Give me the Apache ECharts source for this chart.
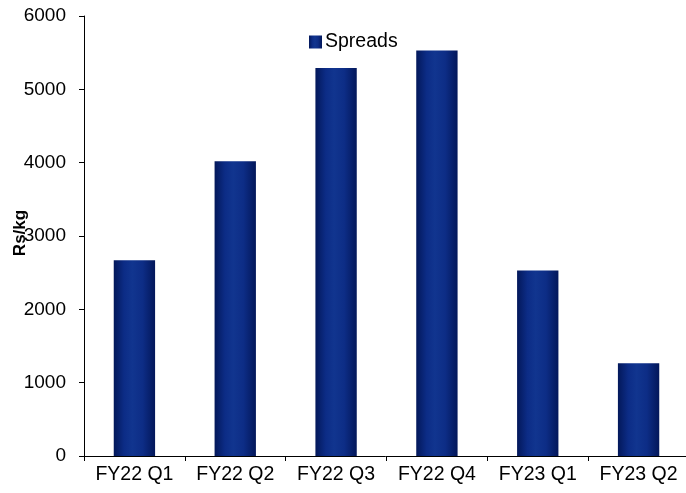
<!DOCTYPE html>
<html>
<head>
<meta charset="utf-8">
<script src="https://cdn.jsdelivr.net/npm/echarts@6/dist/echarts.min.js"></script>
<style>
  html, body { margin: 0; padding: 0; background: #fff; }
  #chart { width: 686px; height: 493px; }
</style>
</head>
<body>
<div id="chart"></div>
<script>
// Quarterly spreads (Rs/kg)
var categories = ['FY22 Q1', 'FY22 Q2', 'FY22 Q3', 'FY22 Q4', 'FY23 Q1', 'FY23 Q2'];
var spreads = [2670, 4020, 5290, 5530, 2530, 1265];
var seriesName = 'Spreads';
var axisTitle = 'Rs/kg';

var font = 'Liberation Sans, Arial, sans-serif';

// Cylinder-like shading across each bar
var barFill = new echarts.graphic.LinearGradient(0, 0, 1, 0, [
  { offset: 0, color: '#03185a' },
  { offset: 0.25, color: '#0c2c86' },
  { offset: 0.45, color: '#11358f' },
  { offset: 0.7, color: '#0d2d86' },
  { offset: 1, color: '#03175a' }
]);

var chart = echarts.init(document.getElementById('chart'), null, { renderer: 'canvas' });
chart.setOption({
  animation: false,
  backgroundColor: '#ffffff',
  textStyle: { fontFamily: font },
  grid: { left: 84, right: -3, top: 16, bottom: 37, containLabel: false, outerBoundsMode: 'none' },
  legend: {
    data: [seriesName],
    left: 304,
    top: 27,
    icon: 'rect',
    itemWidth: 13,
    itemHeight: 13,
    itemGap: 4,
    textStyle: { fontFamily: font, fontSize: 19.5, color: '#000', padding: [0, 0, 0, -2] }
  },
  xAxis: {
    type: 'category',
    data: categories,
    axisLine: { lineStyle: { color: '#000', width: 1 } },
    axisTick: { show: true, length: 5, lineStyle: { color: '#000' } },
    axisLabel: { fontFamily: font, fontSize: 19.5, color: '#000', margin: 9, interval: 0, hideOverlap: false },
    splitLine: { show: false }
  },
  yAxis: {
    type: 'value',
    min: 0,
    max: 6000,
    interval: 1000,
    name: axisTitle,
    nameLocation: 'middle',
    nameRotate: 90,
    nameGap: 55,
    nameMoveOverlap: false,
    nameTextStyle: { fontFamily: font, fontSize: 17, fontWeight: 'bold', color: '#000', padding: [0, 0, 0, 6] },
    axisLine: { show: true, lineStyle: { color: '#000', width: 1 } },
    axisTick: { show: true, length: 5, lineStyle: { color: '#000' } },
    axisLabel: { fontFamily: font, fontSize: 19, color: '#000', margin: 18, formatter: function (v) { return String(v); } },
    splitLine: { show: false }
  },
  series: [{
    name: seriesName,
    type: 'bar',
    data: spreads,
    barWidth: '41%',
    itemStyle: { color: barFill }
  }]
});
</script>
</body>
</html>
